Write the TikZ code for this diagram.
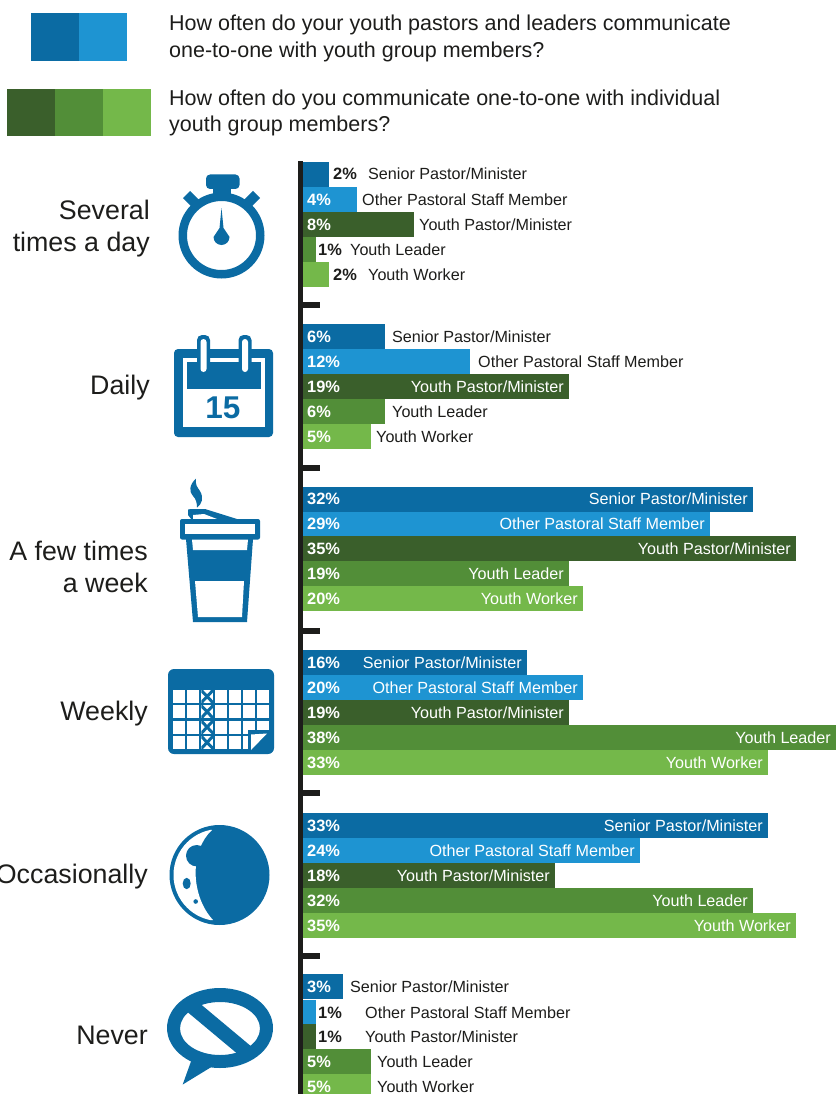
\documentclass[tikz,border=0pt]{standalone}
\usepackage{fontspec}
\setmainfont{Liberation Sans}
\definecolor{bA}{HTML}{0B6BA3}
\definecolor{bB}{HTML}{1E94D2}
\definecolor{gA}{HTML}{3A5F2B}
\definecolor{gB}{HTML}{528E38}
\definecolor{gC}{HTML}{74B84A}
\definecolor{ink}{HTML}{1D1D1B}
\tikzset{
  barbox/.style={fill=#1,draw=none},
  rowtext/.style={inner sep=0pt,font=\fontsize{16.15}{18}\selectfont,text=ink},
  pcttext/.style={inner sep=0pt,font=\fontsize{16.4}{18}\selectfont\bfseries,text=white},
  pctdark/.style={inner sep=0pt,font=\fontsize{16.4}{18}\selectfont\bfseries,text=ink},
  cattext/.style={inner sep=0pt,anchor=base east,font=\fontsize{26.8}{32}\selectfont,text=ink},
  legtext/.style={inner sep=0pt,anchor=base west,font=\fontsize{21.5}{26}\selectfont,text=ink},
  icon/.style={fill=bA,draw=none},
  hole/.style={fill=white,draw=none},
}
\newcounter{rowno}
\newcommand{\rowin}[5]{\stepcounter{rowno}
  \fill[barbox=#3] (303,#1) rectangle (#2,#1+25);
  \node[pcttext,anchor=base west] (p\therowno) at (307,#1+18) {#4};
  \node[rowtext,anchor=base east,text=white] (l\therowno) at (#2-5,#1+18) {#5};}
\newcommand{\rowout}[6]{\stepcounter{rowno}
  \fill[barbox=#3] (303,#1) rectangle (#2,#1+25);
  \node[pcttext,anchor=base west] (p\therowno) at (307,#1+18) {#4};
  \node[rowtext,anchor=base west] (l\therowno) at (#6,#1+18) {#5};}
\newcommand{\rowdark}[7]{\stepcounter{rowno}
  \fill[barbox=#3] (303,#1) rectangle (#2,#1+25);
  \node[pctdark,anchor=base west] (p\therowno) at (#7,#1+18) {#4};
  \node[rowtext,anchor=base west] (l\therowno) at (#6,#1+18) {#5};}
\begin{document}
\begin{tikzpicture}[x=1pt,y=-1pt]
\useasboundingbox (0,0) rectangle (836,1094);
% legend
\fill[bA] (31,13) rectangle (79,61);
\fill[bB] (79,13) rectangle (127,61);
\fill[gA] (7,89) rectangle (55,136);
\fill[gB] (55,89) rectangle (103,136);
\fill[gC] (103,89) rectangle (151,136);
\node[legtext] (t1) at (169,31) {How often do your youth pastors and leaders communicate};
\node[legtext] (t2) at (169,58) {one-to-one with youth group members?};
\node[legtext] (t3) at (169,106) {How often do you communicate one-to-one with individual};
\node[legtext] (t4) at (169,132) {youth group members?};
% axis
\fill[ink] (298,161) rectangle (303,1094);
\foreach \ty in {305,468,631,793,956} \fill[ink] (303,\ty-2.7) rectangle (320,\ty+2.7);
% categories
\node[cattext] (c1) at (150,219) {Several};
\node[cattext] (c2) at (150,251) {times a day};
\node[cattext] (c3) at (150,394) {Daily};
\node[cattext] (c4) at (148,560) {A few times};
\node[cattext] (c5) at (148,592) {a week};
\node[cattext] (c6) at (148,720) {Weekly};
\node[cattext] (c7) at (148,883) {Occasionally};
\node[cattext] (c8) at (148,1044) {Never};
% group 1
\rowdark{162}{329}{bA}{2\%}{Senior Pastor/Minister}{368}{333}
\rowout{187}{357}{bB}{4\%}{Other Pastoral Staff Member}{362}
\rowout{212}{414}{gA}{8\%}{Youth Pastor/Minister}{419}
\rowdark{237}{316}{gB}{1\%}{Youth Leader}{350}{318}
\rowdark{262}{329}{gC}{2\%}{Youth Worker}{368}{333}
% group 2
\rowout{324}{385}{bA}{6\%}{Senior Pastor/Minister}{392}
\rowout{349}{470}{bB}{12\%}{Other Pastoral Staff Member}{478}
\rowin{374}{569}{gA}{19\%}{Youth Pastor/Minister}
\rowout{399}{385}{gB}{6\%}{Youth Leader}{392}
\rowout{424}{371}{gC}{5\%}{Youth Worker}{376}
% group 3
\rowin{486.5}{753}{bA}{32\%}{Senior Pastor/Minister}
\rowin{511.5}{710}{bB}{29\%}{Other Pastoral Staff Member}
\rowin{536}{796}{gA}{35\%}{Youth Pastor/Minister}
\rowin{561}{569}{gB}{19\%}{Youth Leader}
\rowin{586}{583}{gC}{20\%}{Youth Worker}
% group 4
\rowin{650}{527}{bA}{16\%}{Senior Pastor/Minister}
\rowin{675}{583}{bB}{20\%}{Other Pastoral Staff Member}
\rowin{700}{569}{gA}{19\%}{Youth Pastor/Minister}
\rowin{725}{836}{gB}{38\%}{Youth Leader}
\rowin{750}{768}{gC}{33\%}{Youth Worker}
% group 5
\rowin{813}{768}{bA}{33\%}{Senior Pastor/Minister}
\rowin{838}{640}{bB}{24\%}{Other Pastoral Staff Member}
\rowin{863}{555}{gA}{18\%}{Youth Pastor/Minister}
\rowin{888}{753}{gB}{32\%}{Youth Leader}
\rowin{913}{796}{gC}{35\%}{Youth Worker}
% group 6
\rowout{974}{343}{bA}{3\%}{Senior Pastor/Minister}{350}
\rowdark{1000}{316}{bB}{1\%}{Other Pastoral Staff Member}{365}{318}
\rowdark{1024}{316}{gA}{1\%}{Youth Pastor/Minister}{365}{318}
\rowout{1049}{371}{gB}{5\%}{Youth Leader}{377}
\rowout{1074}{371}{gC}{5\%}{Youth Worker}{377}
% stopwatch
\fill[icon,even odd rule] (221.5,235.5) circle (43) (221.5,235.5) circle (34.5);
\fill[icon,rounded corners=4] (206,174.5) rectangle (239.5,189);
\fill[icon] (213,185) rectangle (231,198);
\draw[bA,line width=10] (186.5,194.5) -- (196,204);
\draw[bA,line width=10] (256.5,194.5) -- (247,204);
\fill[icon] (221.5,208) -- (223.5,228) -- (229.5,237) arc (0:180:8) -- (219.5,228) -- cycle;
% calendar
\fill[icon,rounded corners=4] (174,349) rectangle (273,437);
\fill[hole] (183,358) rectangle (265,427);
\fill[icon] (187,362) rectangle (261,389);
\foreach \rx in {203.5,245} {
  \fill[icon,rounded corners=5] (\rx-6.5,335) rectangle (\rx+6.5,374);
  \fill[hole,rounded corners=3] (\rx-3,339) rectangle (\rx+3,372);}
\node[inner sep=0pt,anchor=base,text=bA,font=\fontsize{31.5}{34}\selectfont\bfseries] (n15) at (223,418) {15};
% cup
\fill[icon] (188,515) -- (188,510) .. controls (188,509) and (189,509) .. (205,509) -- (237,519) -- (192,520) -- cycle;
\fill[hole] (193,515) -- (204,514) -- (217,519) -- (193,519) -- cycle;
\fill[icon,rounded corners=2] (180,519) rectangle (260,539.5);
\fill[hole] (185,524) rectangle (255,534);
\fill[icon] (186,539) -- (253,539) -- (247,622) -- (193,622) -- cycle;
\fill[hole] (192,539.5) -- (248,539.5) -- (247,550) -- (193,550) -- cycle;
\fill[hole] (195,581) -- (244,581) -- (242,617) -- (198,617) -- cycle;
\fill[icon] (196,478.5) .. controls (189,485) and (189,492) .. (193,496) .. controls (196,499) and (197,503) .. (197,507.5) .. controls (202,504) and (204,498) .. (200,491) .. controls (197,487) and (195,484) .. (196,478.5) -- cycle;
% weekly calendar
\fill[icon,rounded corners=6] (168,669) rectangle (274,754);
\foreach \cx in {0,...,6} \foreach \cy in {0,...,3}
  \fill[hole] (173.3+14*\cx,690+15.3*\cy) rectangle +(11.6,13);
\foreach \cy in {0,...,3} {
  \begin{scope}
    \clip (201.3,690+15.3*\cy) rectangle +(11.6,13);
    \draw[bA,line width=3] (200.5,689.5+15.3*\cy) -- +(13.2,14) (213.7,689.5+15.3*\cy) -- +(-13.2,14);
  \end{scope}}
\fill[icon] (248,730) rectangle (270,752);
\fill[hole] (251,734.5) -- (267,733.5) -- (251,750) -- cycle;
% moon
\fill[icon] (219.5,875) circle (50);
\begin{scope}
  \clip (219.5,875) circle (46);
  \fill[hole] (212,830) .. controls (190,850) and (190,895) .. (213,920) -- (160,925) -- (160,825) -- cycle;
\end{scope}
\fill[icon] (196.7,855.7) circle (10.7);
\fill[icon] (186.7,883.5) ellipse (4 and 5.7);
\fill[icon] (195.7,901.5) circle (2.3);
% speech bubble
\fill[icon] (191.5,1060) -- (182.7,1084.5) -- (213,1066) -- cycle;
\fill[icon,even odd rule] (220,1028) ellipse (53 and 40) (220,1028.5) ellipse (40 and 26.5);
\begin{scope}
  \clip (220,1028) ellipse (50 and 38);
  \draw[bA,line width=14.5] (185,1000.5) -- (252,1056.5);
\end{scope}
\end{tikzpicture}
\end{document}
